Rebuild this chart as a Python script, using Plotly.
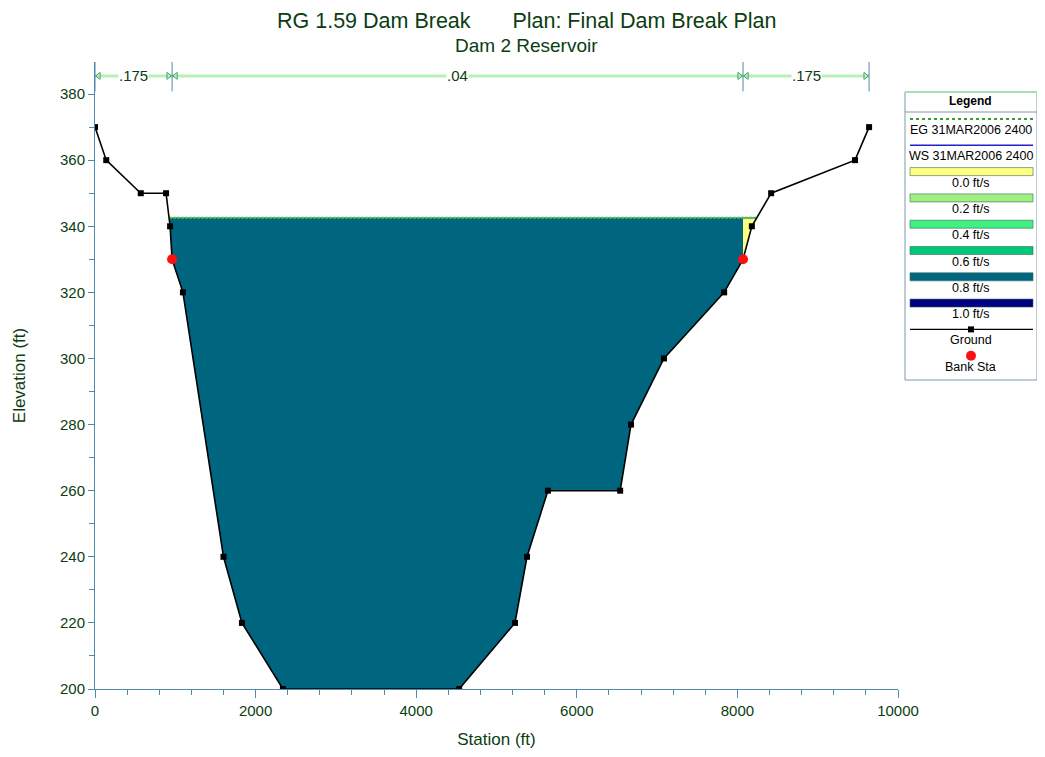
import numpy as np
import plotly.graph_objs as go

# cross section ground
station = [0, 140, 570, 885, 935, 960, 1095, 1600, 1830, 2340, 4535, 5230, 5380,
           5640, 6540, 6675, 7085, 7835, 8070, 8180, 8420, 9465, 9640]
elevation = [370, 360, 350, 350, 340, 330, 320, 240, 220, 200, 200, 220, 240,
             260, 260, 280, 300, 320, 330, 340, 350, 360, 370]
bank_sta = [960, 8070]
bank_elev = [330, 330]
ws_elev = 342.5
eg_elev = 342.6
n_breaks = [0, 960, 8070, 9640]
n_values = ['.175', '.04', '.175']

legend_labels = ['EG 31MAR2006 2400', 'WS 31MAR2006 2400', '0.0 ft/s', '0.2 ft/s',
                 '0.4 ft/s', '0.6 ft/s', '0.8 ft/s', '1.0 ft/s', 'Ground', 'Bank Sta']
vel_colors = ['#ffff80', '#a0f080', '#40f080', '#00c878', '#006680', '#000080']

FONT = 'Liberation Sans, Arial, sans-serif'
TXT = '#0b3d12'
AX = '#4d8cad'

st = np.array(station, float)
el = np.array(elevation, float)


def crossing(i, j):
    return st[i] + (ws_elev - el[i]) * (st[j] - st[i]) / (el[j] - el[i])


# wetted points between left and right crossings
wet = np.where(el < ws_elev)[0]
i0, i1 = wet[0], wet[-1]
xl = crossing(i0 - 1, i0)
xr = crossing(i1, i1 + 1)


def ground_at(x):
    return float(np.interp(x, st, el))


def water_poly(a, b):
    xs = [a, a]
    ys = [ws_elev, min(ws_elev, ground_at(a))]
    for k in range(i0, i1 + 1):
        if a < st[k] < b:
            xs.append(st[k]); ys.append(el[k])
    xs += [b, b, a]
    ys += [min(ws_elev, ground_at(b)), ws_elev, ws_elev]
    return xs, ys


fig = go.Figure()

# channel / left part (0.8 ft/s)
px_, py_ = water_poly(xl, bank_sta[1])
fig.add_trace(go.Scatter(x=px_, y=py_, fill='toself', fillcolor=vel_colors[4],
                         line=dict(width=0), mode='lines', hoverinfo='skip'))
# right overbank (0.0 ft/s)
px_, py_ = water_poly(bank_sta[1], xr)
fig.add_trace(go.Scatter(x=px_, y=py_, fill='toself', fillcolor=vel_colors[0],
                         line=dict(width=0), mode='lines', hoverinfo='skip'))

# WS and EG
fig.add_trace(go.Scatter(x=[xl, xr], y=[ws_elev, ws_elev], mode='lines',
                         line=dict(color='#2020d0', width=1)))
fig.add_trace(go.Scatter(x=[xl, xr], y=[eg_elev, eg_elev], mode='lines',
                         line=dict(color='#50c840', width=2, dash='3px,1px')))

# ground
fig.add_trace(go.Scatter(x=station, y=elevation, mode='lines+markers',
                         line=dict(color='black', width=1.6),
                         marker=dict(symbol='square', size=6, color='black')))
fig.add_trace(go.Scatter(x=bank_sta, y=bank_elev, mode='markers',
                         marker=dict(symbol='circle', size=10, color='#ff1010')))

# Manning's n bar
n_y = 385.5
for k in range(len(n_values)):
    a, b = n_breaks[k], n_breaks[k + 1]
    fig.add_trace(go.Scatter(x=[a, b], y=[n_y, n_y], mode='lines',
                             line=dict(color='#b8f0b8', width=3)))
    fig.add_trace(go.Scatter(x=[a + 45, b - 45], y=[n_y, n_y], mode='markers',
                             marker=dict(symbol=['triangle-left-open', 'triangle-right-open'],
                                         size=6, color='#3aa060', line=dict(width=1))))
    fig.add_annotation(x=(a + b) / 2, y=n_y, text=n_values[k], showarrow=False,
                       bgcolor='white', font=dict(family=FONT, size=15, color=TXT),
                       borderpad=0, xanchor='center', yanchor='middle')
for b in n_breaks:
    fig.add_shape(type='line', x0=b, x1=b, y0=380.8, y1=389.7,
                  line=dict(color=AX, width=1))

# page has an 8px body margin, so figure px = page px - 8
OFF = 8
W, H = 1045 - OFF, 757 - 2 * OFF
L, R, T, B = 95 - OFF, 898 - OFF, 62 - OFF, 689 - OFF


def px(x):
    return (x - OFF - L) / (R - L)


def py(y):
    return (B - (y - OFF)) / (B - T)


def note(x, y, text, size, color='black'):
    fig.add_annotation(xref='paper', yref='paper', x=px(x), y=py(y), text=text,
                       showarrow=False, xanchor='center', yanchor='middle',
                       font=dict(family=FONT, size=size, color=color))


lx0, lx1 = 905, 1037
fig.add_shape(type='rect', xref='paper', yref='paper', x0=px(lx0), x1=px(lx1),
              y0=py(380), y1=py(92), line=dict(color='#7a9aa8', width=1), fillcolor='white')
fig.add_shape(type='line', xref='paper', yref='paper', x0=px(lx0), x1=px(lx1),
              y0=py(92), y1=py(92), line=dict(color='#a0e8a0', width=1.5))
fig.add_shape(type='line', xref='paper', yref='paper', x0=px(lx0), x1=px(lx1),
              y0=py(112), y1=py(112), line=dict(color='#7a9aa8', width=1))
note(971, 101, '<b>Legend</b>', 12)

cx = 971
bx0, bx1 = 910, 1033
row0 = 119
step = 26.3
for k, lab in enumerate(legend_labels):
    ys = row0 + k * step
    yl = ys + 11
    if k == 0:
        fig.add_shape(type='line', xref='paper', yref='paper', x0=px(bx0), x1=px(bx1),
                      y0=py(ys), y1=py(ys), line=dict(color='#30a030', width=2, dash='dot'))
    elif k == 1:
        fig.add_shape(type='line', xref='paper', yref='paper', x0=px(bx0), x1=px(bx1),
                      y0=py(ys), y1=py(ys), line=dict(color='#2020d0', width=1.5))
    elif 2 <= k <= 7:
        fig.add_shape(type='rect', xref='paper', yref='paper', x0=px(bx0), x1=px(bx1),
                      y0=py(ys + 4), y1=py(ys - 4), fillcolor=vel_colors[k - 2],
                      line=dict(color='#3a6a60', width=0.6))
    elif k == 8:
        fig.add_shape(type='line', xref='paper', yref='paper', x0=px(bx0), x1=px(bx1),
                      y0=py(ys), y1=py(ys), line=dict(color='black', width=1.2))
        fig.add_shape(type='rect', xref='paper', yref='paper', x0=px(cx - 3), x1=px(cx + 3),
                      y0=py(ys + 3), y1=py(ys - 3), fillcolor='black', line=dict(width=0))
    else:
        fig.add_shape(type='circle', xref='paper', yref='paper', x0=px(cx - 5), x1=px(cx + 5),
                      y0=py(ys + 5), y1=py(ys - 5), fillcolor='#ff1010', line=dict(width=0))
    note(cx, yl, lab, 12.5)

# titles
note(526, 21, 'RG 1.59 Dam Break' + '\u00a0' * 7 + 'Plan: Final Dam Break Plan', 21.5, TXT)
note(526, 46, 'Dam 2 Reservoir', 19, TXT)

fig.update_layout(
    width=W, height=H,
    margin=dict(l=L, r=W - R, t=T, b=H - B, autoexpand=False),
    paper_bgcolor='white', plot_bgcolor='white',
    showlegend=False,
    xaxis=dict(range=[0, 10000], showgrid=False, zeroline=False, automargin=False,
               showline=True, linecolor=AX, linewidth=1,
               ticks='outside', tickcolor=AX, ticklen=8, dtick=2000, tickformat='d',
               minor=dict(dtick=400, ticks='outside', ticklen=5, tickcolor=AX),
               tickfont=dict(family=FONT, size=15, color=TXT),
               title=dict(text='Station (ft)', font=dict(family=FONT, size=17, color=TXT),
                          standoff=16)),
    yaxis=dict(range=[200, 389.7], showgrid=False, zeroline=False, automargin=False,
               showline=True, linecolor=AX, linewidth=1,
               ticks='outside', tickcolor=AX, ticklen=6, dtick=20, tick0=200,
               minor=dict(dtick=10, ticks='outside', ticklen=5, tickcolor=AX),
               tickfont=dict(family=FONT, size=15, color=TXT),
               title=dict(text='Elevation (ft)', font=dict(family=FONT, size=17, color=TXT),
                          standoff=30)),
)

fig.write_html("out.html")
